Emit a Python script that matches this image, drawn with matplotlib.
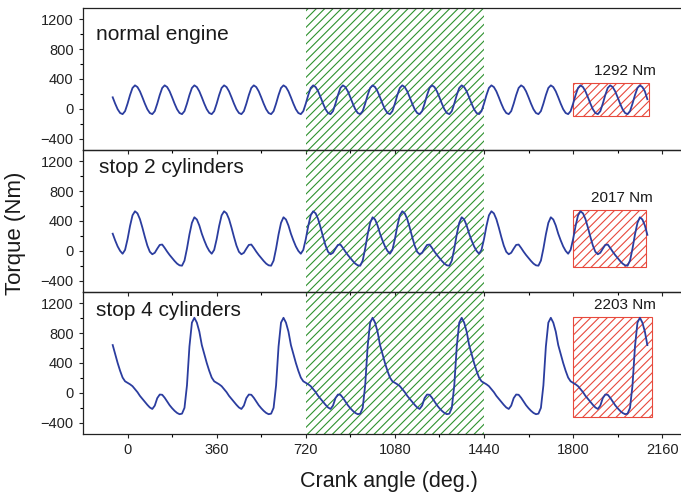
import numpy as np
import matplotlib
matplotlib.use("Agg")
import matplotlib.pyplot as plt
from matplotlib.patches import Rectangle

plt.rcParams['font.family'] = ['Liberation Sans', 'DejaVu Sans']
plt.rcParams['hatch.linewidth'] = 0.8

# crank angle sampling grid (deg)
crank_angle = np.arange(-60, 2101, 10)

# normal engine torque (Nm), read every 10 deg from -60 to 2100
normal_engine = [
    155, 70, -5, -55, -70, -30, 70, 185, 280, 315, 292, 235,
    155, 70, -5, -55, -70, -30, 70, 185, 280, 315, 292, 235,
    155, 70, -5, -55, -70, -30, 70, 185, 280, 315, 292, 235,
    155, 70, -5, -55, -70, -30, 70, 185, 280, 315, 292, 235,
    155, 70, -5, -55, -70, -30, 70, 185, 280, 315, 292, 235,
    155, 70, -5, -55, -70, -30, 70, 185, 280, 315, 292, 235,
    155, 70, -5, -55, -70, -30, 70, 185, 280, 315, 292, 235,
    155, 70, -5, -55, -70, -30, 70, 185, 280, 315, 292, 235,
    155, 70, -5, -55, -70, -30, 70, 185, 280, 315, 292, 235,
    155, 70, -5, -55, -70, -30, 70, 185, 280, 315, 292, 235,
    155, 70, -5, -55, -70, -30, 70, 185, 280, 315, 292, 235,
    155, 70, -5, -55, -70, -30, 70, 185, 280, 315, 292, 235,
    155, 70, -5, -55, -70, -30, 70, 185, 280, 315, 292, 235,
    155, 70, -5, -55, -70, -30, 70, 185, 280, 315, 292, 235,
    155, 70, -5, -55, -70, -30, 70, 185, 280, 315, 292, 235,
    155, 70, -5, -55, -70, -30, 70, 185, 280, 315, 292, 235,
    155, 70, -5, -55, -70, -30, 70, 185, 280, 315, 292, 235,
    155, 70, -5, -55, -70, -30, 70, 185, 280, 315, 292, 235,
    130,
]

# stop 2 cylinders torque (Nm)
stop_2_cylinders = [
    230, 140, 60, 0, -38, 14, 157, 333, 476, 530, 502, 425,
    311, 186, 71, -12, -45, -25, 30, 80, 85, 40, -10, -55,
    -95, -135, -170, -193, -198, -130, 30, 220, 375, 450, 420, 340,
    230, 140, 60, 0, -38, 14, 157, 333, 476, 530, 502, 425,
    311, 186, 71, -12, -45, -25, 30, 80, 85, 40, -10, -55,
    -95, -135, -170, -193, -198, -130, 30, 220, 375, 450, 420, 340,
    230, 140, 60, 0, -38, 14, 157, 333, 476, 530, 502, 425,
    311, 186, 71, -12, -45, -25, 30, 80, 85, 40, -10, -55,
    -95, -135, -170, -193, -198, -130, 30, 220, 375, 450, 420, 340,
    230, 140, 60, 0, -38, 14, 157, 333, 476, 530, 502, 425,
    311, 186, 71, -12, -45, -25, 30, 80, 85, 40, -10, -55,
    -95, -135, -170, -193, -198, -130, 30, 220, 375, 450, 420, 340,
    230, 140, 60, 0, -38, 14, 157, 333, 476, 530, 502, 425,
    311, 186, 71, -12, -45, -25, 30, 80, 85, 40, -10, -55,
    -95, -135, -170, -193, -198, -130, 30, 220, 375, 450, 420, 340,
    230, 140, 60, 0, -38, 14, 157, 333, 476, 530, 502, 425,
    311, 186, 71, -12, -45, -25, 30, 80, 85, 40, -10, -55,
    -95, -135, -170, -193, -198, -130, 30, 220, 375, 450, 420, 340,
    215,
]

# stop 4 cylinders torque (Nm)
stop_4_cylinders = [
    640, 520, 400, 295, 205, 155, 135, 115, 90, 50, 10, -40,
    -80, -120, -160, -195, -215, -170, -70, -22, -25, -65, -115, -165,
    -205, -240, -268, -285, -278, -200, 100, 620, 940, 1005, 940, 820,
    640, 520, 400, 295, 205, 155, 135, 115, 90, 50, 10, -40,
    -80, -120, -160, -195, -215, -170, -70, -22, -25, -65, -115, -165,
    -205, -240, -268, -285, -278, -200, 100, 620, 940, 1005, 940, 820,
    640, 520, 400, 295, 205, 155, 135, 115, 90, 50, 10, -40,
    -80, -120, -160, -195, -215, -170, -70, -22, -25, -65, -115, -165,
    -205, -240, -268, -285, -278, -200, 100, 620, 940, 1005, 940, 820,
    640, 520, 400, 295, 205, 155, 135, 115, 90, 50, 10, -40,
    -80, -120, -160, -195, -215, -170, -70, -22, -25, -65, -115, -165,
    -205, -240, -268, -285, -278, -200, 100, 620, 940, 1005, 940, 820,
    640, 520, 400, 295, 205, 155, 135, 115, 90, 50, 10, -40,
    -80, -120, -160, -195, -215, -170, -70, -22, -25, -65, -115, -165,
    -205, -240, -268, -285, -278, -200, 100, 620, 940, 1005, 940, 820,
    640, 520, 400, 295, 205, 155, 135, 115, 90, 50, 10, -40,
    -80, -120, -160, -195, -215, -170, -70, -22, -25, -65, -115, -165,
    -205, -240, -268, -285, -278, -200, 100, 620, 940, 1005, 940, 820,
    640,
]

panel_names = ["normal engine", "stop 2 cylinders", "stop 4 cylinders"]
series = [normal_engine, stop_2_cylinders, stop_4_cylinders]
peak_labels = ["1292 Nm", "2017 Nm", "2203 Nm"]
# red box extents (deg, Nm)
box_x = [(1800, 2108), (1800, 2096), (1800, 2120)]
box_y = [(-95, 342), (-211, 547), (-318, 1020)]
label_pos = [(2008, 507), (1999, 708), (2008, 1176)]
name_pos = [(-129, 989), (-116, 1120), (-126, 1100)]
green_span = (720, 1440)

x_major = [0, 360, 720, 1080, 1440, 1800, 2160]
y_major = [-400, 0, 400, 800, 1200]

W, H = 681, 497
fig = plt.figure(figsize=(W / 100, H / 100), dpi=100)

left = 83 / W
width = 599 / W
tops = [8, 150, 292]
ph = 142
line_color = '#2b3d9f'
green = '#2f922f'
red = '#e8493c'

axes = []
for i in range(3):
    bottom = 1 - (tops[i] + ph) / H
    ax = fig.add_axes([left, bottom, width, ph / H])
    ax.set_facecolor('none')
    axes.append(ax)
    ax.set_xlim(-180, 2240)
    ax.set_ylim(-550, 1350)
    ax.axvspan(green_span[0], green_span[1], facecolor='none', edgecolor=green,
               hatch='////', linewidth=0, zorder=1)
    bx, by = box_x[i], box_y[i]
    ax.add_patch(Rectangle((bx[0], by[0]), bx[1] - bx[0], by[1] - by[0],
                           facecolor='none', edgecolor=red, hatch='////',
                           linewidth=0.8, zorder=2))
    ax.plot(crank_angle, series[i], color=line_color, linewidth=1.3, zorder=3)
    ax.text(label_pos[i][0], label_pos[i][1], peak_labels[i], ha='center',
            va='center', fontsize=11, color='#1a1a1a')
    ax.text(name_pos[i][0], name_pos[i][1], panel_names[i], ha='left',
            va='center', fontsize=15, color='#1a1a1a')

    ax.set_xticks(x_major)
    ax.set_xticks(np.arange(180, 2160, 360), minor=True)
    ax.set_yticks(y_major)
    ax.set_yticks([-200, 200, 600, 1000], minor=True)
    ax.tick_params(axis='both', which='major', direction='out', length=3.2,
                   width=0.8, labelsize=10.5, colors='#222222', pad=3.5)
    ax.tick_params(axis='both', which='minor', direction='out', length=2,
                   width=0.8)
    ax.tick_params(axis='x', labelbottom=(i == 2))
    ax.spines['right'].set_visible(False)
    for s in ['top', 'bottom', 'left']:
        ax.spines[s].set_linewidth(0.9)
        ax.spines[s].set_color('#222222')

fig.text(389 / W, 1 - 481 / H, "Crank angle (deg.)", ha='center', va='center',
         fontsize=15.5, color='#1a1a1a')
fig.text(16 / W, 1 - 233 / H, "Torque (Nm)", ha='center', va='center',
         rotation=90, fontsize=16, color='#1a1a1a')

fig.savefig("out.png", dpi=100)
